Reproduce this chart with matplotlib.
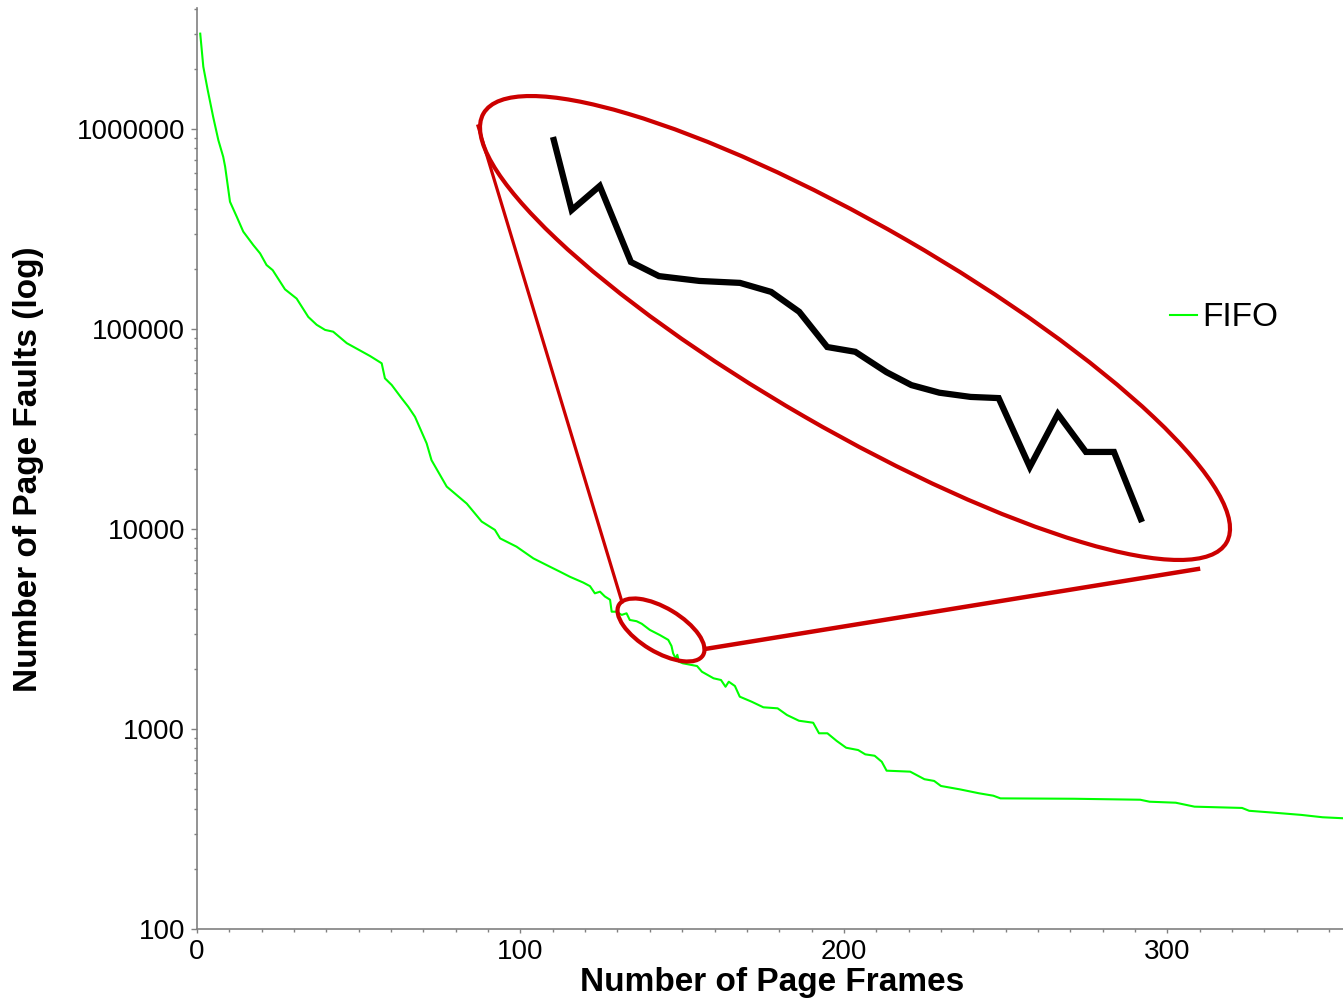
import matplotlib
matplotlib.use('Agg')
import matplotlib.pyplot as plt
from matplotlib.patches import Ellipse
from matplotlib.lines import Line2D
from matplotlib.ticker import LogLocator, MultipleLocator, NullFormatter

plt.rcParams['font.family'] = ['Liberation Sans', 'DejaVu Sans']

# ---------------- data ----------------
frames = [1.0, 1.95, 3.3, 5.0, 6.6, 8.1, 8.7, 10.2, 12.3, 14.3, 17.4, 19.5, 21.5, 23.4,
          27.2, 30.8, 34.4, 37.0, 39.6, 42.1, 46.3, 53.5, 57.1, 58.1, 60.2, 63.3, 65.3,
          67.4, 71.0, 72.5, 77.2, 83.4, 88.0, 92.1, 93.7, 98.8, 104.0, 109.1, 112.2,
          115.3, 119.4, 121.5, 123.0, 124.6, 126.1, 127.7, 128.2, 129.7, 131.3, 132.8,
          133.8, 135.9, 137.5, 140.0, 143.1, 145.7, 146.7, 147.2, 148.0, 148.5, 149.0,
          150.2, 154.6, 156.1, 159.7, 162.0, 163.4, 164.4, 166.3, 167.8, 171.5, 175.1,
          179.5, 182.4, 186.1, 190.5, 192.3, 194.9, 197.8, 200.7, 204.4, 206.6, 209.5,
          211.7, 213.2, 220.5, 224.9, 227.9, 230.0, 235.9, 241.8, 246.2, 248.4, 271.1,
          291.6, 294.5, 302.6, 308.4, 323.1, 325.3, 332.6, 341.4, 348.0, 354.2]
faults = [3.0e6, 2.05e6, 1.57e6, 1.15e6, 8.8e5, 7.27e5, 6.48e5, 4.33e5, 3.64e5, 3.07e5,
          2.63e5, 2.39e5, 2.09e5, 1.97e5, 1.58e5, 1.42e5, 1.15e5, 1.05e5, 9.9e4, 9.7e4,
          8.5e4, 7.33e4, 6.74e4, 5.67e4, 5.25e4, 4.5e4, 4.09e4, 3.64e4, 2.68e4, 2.21e4,
          1.63e4, 1.34e4, 1.09e4, 9900, 8980, 8160, 7130, 6480, 6120, 5770, 5400, 5180,
          4770, 4860, 4600, 4430, 3860, 3860, 3720, 3790, 3510, 3460, 3360, 3130, 2950,
          2790, 2600, 2390, 2250, 2350, 2170, 2131, 2065, 1934, 1793, 1758, 1627, 1724,
          1641, 1451, 1369, 1284, 1269, 1175, 1100, 1075, 952, 952, 871, 806, 785, 747,
          735, 686, 619, 612, 561, 550, 519, 499, 477, 464, 450, 448, 443, 433, 428, 409,
          403, 390, 382, 372, 362, 358]

# magnified detail of the circled region
detail_frames = [129.8, 130.4, 131.3, 132.3, 133.2, 134.5, 135.8, 136.8, 137.7, 138.6,
                 139.5, 140.5, 141.3, 142.2, 143.2, 144.1, 145.1, 146.0, 146.9, 147.8, 148.7]
detail_faults = [4027, 3579, 3721, 3291, 3217, 3192, 3182, 3136, 3037, 2869, 2847, 2755,
                 2698, 2665, 2647, 2642, 2364, 2575, 2422, 2422, 2163]

series_label = 'FIFO'
xtick_vals = [0, 100, 200, 300]
xtick_labels = ['0', '100', '200', '300']
ytick_vals = [100, 1000, 10000, 100000, 1000000]
ytick_labels = ['100', '1000', '10000', '100000', '1000000']

# ---------------- figure ----------------
W, H = 1343, 998
fig = plt.figure(figsize=(W / 100, H / 100), dpi=100)
ax = fig.add_axes([197 / W, 1 - 929 / H, (W - 197) / W, (929 - 8) / H])

ax.plot(frames, faults, color='#00ff00', lw=1.5, label=series_label)
ax.set_yscale('log')
ax.set_xlim(0, 354.3)
ax.set_ylim(100, 4.03e6)

for s in ('top', 'right'):
    ax.spines[s].set_visible(False)
for s in ('left', 'bottom'):
    ax.spines[s].set_color('#808080')
    ax.spines[s].set_linewidth(1.2)

ax.set_yticks(ytick_vals)
ax.set_yticklabels(ytick_labels)
ax.yaxis.set_minor_locator(LogLocator(base=10, subs=range(2, 10)))
ax.yaxis.set_minor_formatter(NullFormatter())
ax.set_xticks(xtick_vals)
ax.set_xticklabels(xtick_labels)
ax.xaxis.set_minor_locator(MultipleLocator(10))

ax.tick_params(axis='both', which='both', direction='out', color='#808080',
               labelsize=20, labelcolor='black', width=1)
ax.tick_params(axis='y', which='major', length=4.5, pad=4)
ax.tick_params(axis='y', which='minor', length=2.5)
ax.tick_params(axis='x', which='major', length=3, pad=4)
ax.tick_params(axis='x', which='minor', length=2.5)

fig.text(772 / W, 1 - 991 / H, 'Number of Page Frames', ha='center', va='baseline',
         fontsize=24, fontweight='bold')
fig.text(29 / W, 1 - 469 / H, 'Number of Page Faults (log)', ha='center', va='center',
         rotation=90, fontsize=24, fontweight='bold')

ax.legend(loc='center left', bbox_to_anchor=(1170 / W, 1 - 318 / H),
          bbox_transform=fig.transFigure, frameon=False, fontsize=24,
          handlelength=0.82, handletextpad=0.15, borderpad=0, borderaxespad=0)

# ---------------- magnified inset ----------------
iax = fig.add_axes([553 / W, 1 - 522 / H, 589 / W, 385 / H])
iax.set_yscale('log')
iax.plot(detail_frames, detail_faults, color='black', lw=4.5, clip_on=False,
         solid_joinstyle='miter', solid_capstyle='butt')
iax.set_xlim(detail_frames[0], detail_frames[-1])
iax.set_ylim(min(detail_faults), max(detail_faults))
iax.axis('off')


def px(x, y):
    return (x / 100, (H - y) / 100)


red = '#cc0000'
T = fig.dpi_scale_trans
fig.add_artist(Ellipse(px(855, 328), 2 * 429 / 100, 2 * 102 / 100, angle=-30,
                       transform=T, fill=False, ec=red, lw=3))
fig.add_artist(Ellipse(px(661, 630), 2 * 49 / 100, 2 * 22 / 100, angle=-31,
                       transform=T, fill=False, ec=red, lw=3))
p1, p2 = px(478, 126), px(622, 602)
fig.add_artist(Line2D([p1[0], p2[0]], [p1[1], p2[1]], transform=T, color=red, lw=2.3))
p3, p4 = px(705, 649), px(1198, 569)
fig.add_artist(Line2D([p3[0], p4[0]], [p3[1], p4[1]], transform=T, color=red, lw=3.2))

fig.savefig('out.png', dpi=100)
